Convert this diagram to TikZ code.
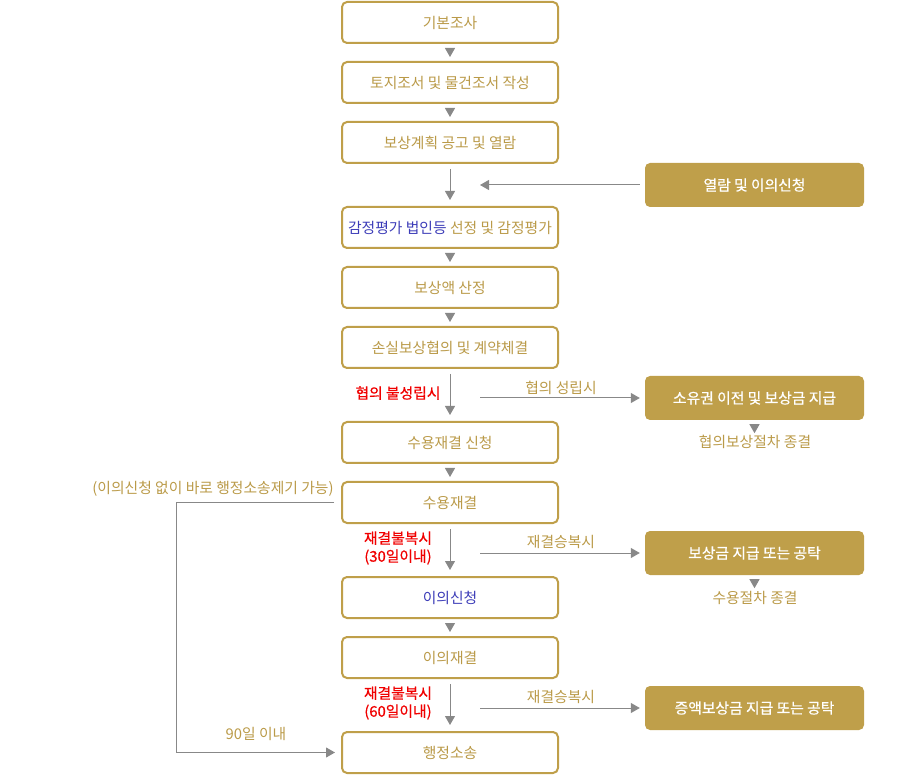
\documentclass[tikz,border=0pt]{standalone}
\usepackage{fontspec}
\usetikzlibrary{arrows.meta}
\newfontfamily\kr{Noto Sans CJK KR}
\newfontfamily\krb[FakeBold=0.6]{Noto Sans CJK KR}
\definecolor{gold}{HTML}{BF9F4A}
\definecolor{goldtxt}{HTML}{BA9A48}
\definecolor{bluetxt}{HTML}{3C3CB8}
\definecolor{redtxt}{HTML}{F00000}
\definecolor{agray}{HTML}{888888}
\tikzset{
  box/.style={draw=gold, line width=2pt, rounded corners=5pt, fill=white,
    minimum width=216pt, minimum height=41pt, text=goldtxt, inner sep=0pt},
  gbox/.style={fill=gold, rounded corners=5pt, minimum width=219pt,
    minimum height=44pt, text=white, inner sep=0pt, font=\krb\fontsize{14.8}{17}\selectfont},
  conn/.style={draw=agray, line width=1pt, -{Triangle[width=10pt,length=9pt]}},
  tri/.style={conn},
  lbl/.style={text=goldtxt, inner sep=0pt},
  rlbl/.style={text=redtxt, inner sep=0pt, align=center, font=\krb\fontsize{14.8}{18}\selectfont},
}
\begin{document}
\begin{tikzpicture}[x=1pt,y=-1pt,font=\kr\fontsize{14.8}{17}\selectfont]
\useasboundingbox (0,0) rectangle (900,775);
% main column
\node[box] (b1) at (450,22.5) {기본조사};
\node[box] (b2) at (450,82.5) {토지조서 및 물건조서 작성};
\node[box] (b3) at (450,142.5) {보상계획 공고 및 열람};
\node[box] (b4) at (450,227.5) {{\color{bluetxt}감정평가 법인등} 선정 및 감정평가};
\node[box] (b5) at (450,287.5) {보상액 산정};
\node[box] (b6) at (450,347.5) {손실보상협의 및 계약체결};
\node[box] (b7) at (450,442.5) {수용재결 신청};
\node[box] (b8) at (450,502.5) {수용재결};
\node[box, text=bluetxt] (b9) at (450,597.5) {이의신청};
\node[box] (b10) at (450,657.5) {이의재결};
\node[box] (b11) at (450,752.5) {행정소송};
% right column
\node[gbox] (r1) at (754.5,185) {열람 및 이의신청};
\node[gbox] (r2) at (754.5,398) {소유권 이전 및 보상금 지급};
\node[gbox] (r3) at (754.5,553) {보상금 지급 또는 공탁};
\node[gbox] (r4) at (754.5,708) {증액보상금 지급 또는 공탁};
\node[lbl] (t1) at (755,442) {협의보상절차 종결};
\node[lbl] (t2) at (755,598) {수용절차 종결};
% small triangles
\foreach \a/\b in {b1/b2,b2/b3,b4/b5,b5/b6,b7/b8,b9/b10}{
  \draw[tri, shorten <=4pt, shorten >=4pt] (\a.south) -- (\b.north);
}
\draw[tri] ([yshift=-4pt]r2.south) -- ([yshift=-13pt]r2.south);
\draw[tri] ([yshift=-4pt]r3.south) -- ([yshift=-13pt]r3.south);
% coordinates for horizontal arrows
\coordinate (h1) at (480,185);
\coordinate (h2) at (480,398);
\coordinate (h3) at (480,553);
\coordinate (h4) at (480,708);
% vertical arrows
\draw[conn, shorten <=5pt, shorten >=6pt] (b3) -- (b4);
\draw[conn, shorten <=5pt, shorten >=6pt] (b6) -- (b7);
\draw[conn, shorten <=5pt, shorten >=6pt] (b8) -- (b9);
\draw[conn, shorten <=5pt, shorten >=6pt] (b10) -- (b11);
% horizontal arrows
\draw[conn, shorten <=5pt] (r1.west) -- (h1);
\draw[conn, shorten >=5pt] (h2) -- (r2.west);
\draw[conn, shorten >=5pt] (h3) -- (r3.west);
\draw[conn, shorten >=5pt] (h4) -- (r4.west);
% loop
\draw[conn, shorten <=7pt, shorten >=6pt] (b8.west) -- ++(-165,0) |- (b11.west);
% labels
\node[rlbl] (l1) at (398,393) {협의 불성립시};
\node[lbl] (l2) at (561,388) {협의 성립시};
\node[rlbl] (l3) at (398,548) {재결불복시\\(30일이내)};
\node[lbl] (l4) at (561,542) {재결승복시};
\node[rlbl] (l5) at (398,703) {재결불복시\\(60일이내)};
\node[lbl] (l6) at (561,697) {재결승복시};
\node[lbl] (l7) at (213,489) {(이의신청 없이 바로 행정소송제기 가능)};
\node[lbl] (l8) at (256,734) {90일 이내};
\end{tikzpicture}
\end{document}
